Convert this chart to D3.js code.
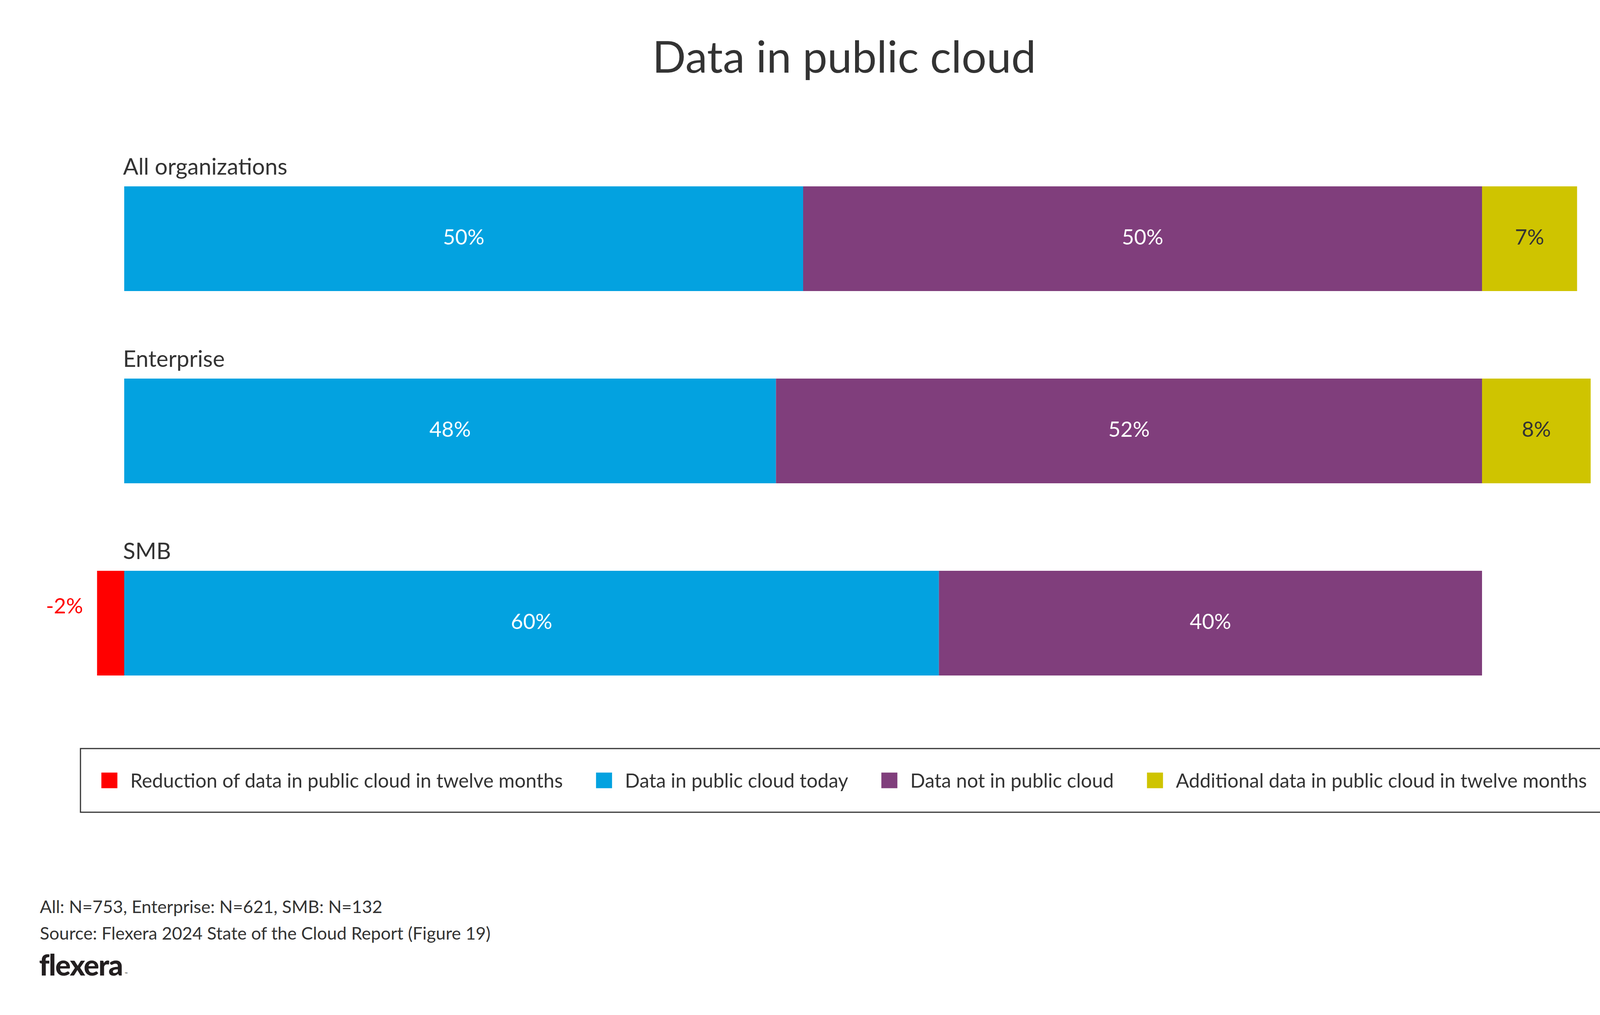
<!DOCTYPE html>
<html>
<head>
<meta charset="utf-8">
<script src="https://cdn.jsdelivr.net/npm/d3@7"></script>
<style>
  html, body { margin: 0; padding: 0; background: #ffffff; }
  svg { display: block; }
  text { font-family: Lato, "Noto Sans", sans-serif; }
</style>
</head>
<body>
<svg id="chart" width="4364" height="2598"></svg>
<script>
// ---------- data ----------
const categories = ["All organizations", "Enterprise", "SMB"];
const seriesNames = [
  "Reduction of data in public cloud in twelve months",
  "Data in public cloud today",
  "Data not in public cloud",
  "Additional data in public cloud in twelve months"
];
const reductionValues  = [0, 0, -2];
const todayValues      = [50, 48, 60];
const notInCloudValues = [50, 52, 40];
const additionalValues = [7, 8, 0];
const seriesColors = ["#ff0000", "#03a2e0", "#803e7c", "#cfc400"];
const labelColors  = ["#ff0000", "#ffffff", "#ffffff", "#333333"];
const titleText = "Data in public cloud";
const footnotes = [
  "All: N=753, Enterprise: N=621, SMB: N=132",
  "Source: Flexera 2024 State of the Cloud Report (Figure 19)"
];

// ---------- layout ----------
const W = 4364, H = 2598;
const svg = d3.select("#chart");
svg.append("rect").attr("width", W).attr("height", H).attr("fill", "#fff");

const x = d3.scaleLinear().domain([0, 100]).range([318, 3794]);
const y = d3.scaleBand().domain(categories).range([477, 1729]).paddingInner(0.4553).paddingOuter(0);

// title
svg.append("text")
  .attr("x", 2161).attr("y", 186)
  .attr("text-anchor", "middle")
  .attr("font-size", 113)
  .attr("fill", "#333333")
  .text(titleText);

// build stacked rows
const rows = categories.map((c, i) => {
  const segs = [];
  segs.push({cat: c, s: 0, v: reductionValues[i], x0: reductionValues[i], x1: 0});
  let acc = 0;
  [todayValues[i], notInCloudValues[i], additionalValues[i]].forEach((v, k) => {
    segs.push({cat: c, s: k + 1, v: v, x0: acc, x1: acc + v});
    acc += v;
  });
  return segs;
});
const segments = rows.flat().filter(d => d.v !== 0);

const g = svg.append("g");

// category labels
g.selectAll("text.cat").data(categories).join("text")
  .attr("class", "cat")
  .attr("x", 315)
  .attr("y", d => y(d) - 30)
  .attr("font-size", 58)
  .attr("fill", "#333333")
  .text(d => d);

// bars
g.selectAll("rect.seg").data(segments).join("rect")
  .attr("class", "seg")
  .attr("x", d => x(d.x0))
  .attr("y", d => y(d.cat))
  .attr("width", d => x(d.x1) - x(d.x0))
  .attr("height", y.bandwidth())
  .attr("fill", d => seriesColors[d.s]);

// value labels
g.selectAll("text.val").data(segments).join("text")
  .attr("class", "val")
  .attr("x", d => d.v < 0 ? x(d.x0) - 36 : (x(d.x0) + x(d.x1)) / 2)
  .attr("y", d => y(d.cat) + y.bandwidth() / 2 + (d.v < 0 ? -25 : 15))
  .attr("text-anchor", d => d.v < 0 ? "end" : "middle")
  .attr("font-size", 54)
  .attr("fill", d => labelColors[d.s])
  .text(d => d.v + "%");

// legend
const legBox = {x: 206, y: 1916, w: 3910, h: 163};
svg.append("rect")
  .attr("x", legBox.x).attr("y", legBox.y)
  .attr("width", legBox.w).attr("height", legBox.h)
  .attr("fill", "none").attr("stroke", "#333333").attr("stroke-width", 3);

const legG = svg.append("g");
const sw = 41, swH = 40, gapT = 33, gapI = 85;
const items = legG.selectAll("g.item").data(seriesNames).join("g").attr("class", "item");
items.append("rect")
  .attr("width", sw).attr("height", swH)
  .attr("y", -swH / 2)
  .attr("fill", (d, i) => seriesColors[i]);
items.append("text")
  .attr("x", sw + gapT)
  .attr("y", 18)
  .attr("font-size", 50)
  .attr("fill", "#333333")
  .text(d => d);
let widths = [];
items.each(function() { widths.push(this.querySelector("text").getComputedTextLength()); });
const total = d3.sum(widths) + widths.length * (sw + gapT) + (widths.length - 1) * gapI;
let cx = legBox.x + (legBox.w - total) / 2;
const cy = legBox.y + legBox.h / 2;
items.attr("transform", (d, i) => {
  const t = `translate(${cx},${cy})`;
  cx += sw + gapT + widths[i] + gapI;
  return t;
});

// footnotes
svg.selectAll("text.foot").data(footnotes).join("text")
  .attr("class", "foot")
  .attr("x", 102)
  .attr("y", (d, i) => 2337 + i * 68)
  .attr("font-size", 45)
  .attr("fill", "#333333")
  .text(d => d);

// logo
const logo = svg.append("text")
  .attr("x", 100).attr("y", 2497)
  .attr("font-size", 74)
  .attr("font-weight", 900)
  .attr("letter-spacing", -2)
  .attr("fill", "#231f20")
  .text("flexera");
const lw = logo.node().getComputedTextLength();
svg.append("text")
  .attr("x", 100 + lw + 6).attr("y", 2496)
  .attr("font-size", 10)
  .attr("fill", "#231f20")
  .text("™");
</script>
</body>
</html>
